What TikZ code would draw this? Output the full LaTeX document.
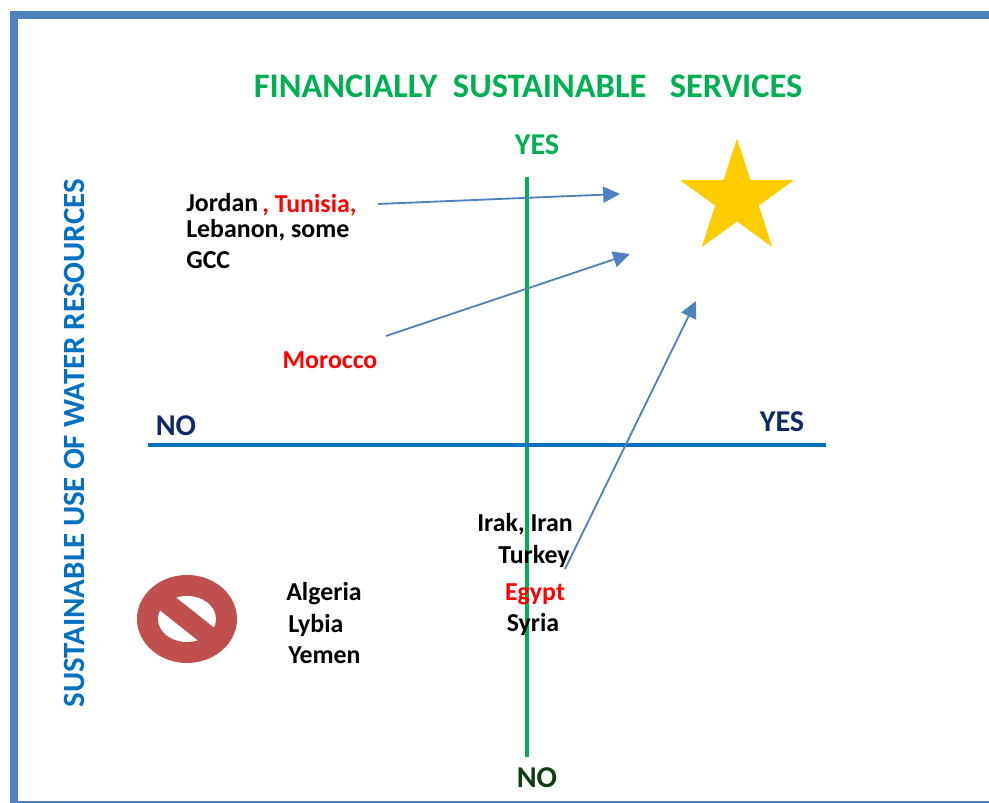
\documentclass[tikz,border=0pt]{standalone}
\usepackage{fontspec}
\usepackage{xcolor}
\setmainfont{Carlito}
\usetikzlibrary{arrows.meta,shapes.geometric}
\definecolor{framecol}{HTML}{4F81BD}
\definecolor{axisgreen}{HTML}{00B050}
\definecolor{axisblue}{HTML}{0070C0}
\definecolor{navycol}{HTML}{0F2A66}
\definecolor{darkgreen}{HTML}{0F3D0F}
\definecolor{starcol}{HTML}{FFCC00}
\definecolor{badred}{HTML}{C0504D}
\tikzset{
	link/.style={draw=framecol, line width=1.3pt, -{Triangle[length=0.42cm,width=0.4cm]}},
	axisline/.style={line width=3.4pt},
	country/.style={font=\fontsize{18.4}{22}\bfseries, inner sep=0pt, text=black},
	highlight/.style={country, text=red},
	axislabel/.style={font=\fontsize{21.5}{26}\bfseries, inner sep=0pt}
}
\begin{document}
\begin{tikzpicture}
	\useasboundingbox (0,0) rectangle (24.725,20.075);

	\fill[framecol] (0.25,0) rectangle (0.45,19.8);
	\fill[framecol] (0.25,19.6) rectangle (24.725,19.8);
	\fill[framecol] (0.25,0) rectangle (24.725,0.05);

	\coordinate (vtop) at (13.175,15.65);
	\coordinate (vbottom) at (13.175,1.15);
	\coordinate (hleft) at (3.7,8.95);
	\coordinate (hright) at (20.65,8.95);
	\draw[axisline, axisgreen] (vtop) -- (vbottom);
	\draw[axisline, axisblue] (hleft) -- (hright);

	\node[font=\fontsize{24.5}{29}\bfseries, text=axisgreen, inner sep=0pt] at (13.2,17.925) (title) {FINANCIALLY\ \ SUSTAINABLE\ \ \ SERVICES};
	\node[rotate=90, font=\fontsize{22}{26}\bfseries, text=axisblue, inner sep=0pt] at (1.85,8.99) (ylabel) {SUSTAINABLE USE OF WATER RESOURCES};
	\node[axislabel, text=axisgreen] at (13.425,16.45) (yestop) {YES};
	\node[axislabel, text=darkgreen] at (13.425,0.625) (nobottom) {NO};
	\node[axislabel, text=navycol] at (4.4,9.425) (noleft) {NO};
	\node[axislabel, text=navycol] at (19.55,9.525) (yesright) {YES};

	\node[star, star points=5, star point ratio=2.618, fill=starcol, minimum size=3cm, inner sep=0pt, outer sep=0pt] at (18.425,15.11) (goal) {};

	\node[country, anchor=west] at (4.65,15.0) (jordan) {Jordan};
	\node[highlight, anchor=west] at (6.55,14.95) (tunisia) {, Tunisia,};
	\node[country, anchor=west] at (4.65,14.325) (lebanon) {Lebanon, some};
	\node[country, anchor=west] at (4.65,13.575) (gcc) {GCC};
	\node[highlight] at (8.25,11.075) (morocco) {Morocco};

	\node[country] at (13.125,6.975) (irak) {Irak, Iran};
	\node[country] at (13.35,6.175) (turkey) {Turkey};
	\node[highlight] at (13.375,5.225) (egypt) {Egypt};
	\node[country] at (13.325,4.475) (syria) {Syria};

	\node[country, anchor=west] at (7.15,5.225) (algeria) {Algeria};
	\node[country, anchor=west] at (7.2,4.45) (lybia) {Lybia};
	\node[country, anchor=west] at (7.2,3.7) (yemen) {Yemen};

	\coordinate (nosign) at (4.675,4.6);
	\fill[badred] (nosign) ellipse [x radius=1.25cm, y radius=1.1cm];
	\fill[white] (nosign) ellipse [x radius=0.725cm, y radius=0.575cm];
	\fill[badred, rotate around={-38.4:(nosign)}] ([shift={(-1,-0.25)}]nosign) rectangle ([shift={(1,0.25)}]nosign);

	\coordinate (fromjordan) at (9.45,14.975);
	\coordinate (tojordan) at (15.5,15.225);
	\coordinate (frommorocco) at (9.65,11.675);
	\coordinate (tomorocco) at (15.75,13.725);
	\coordinate (fromturkey) at (14.125,5.85);
	\coordinate (toturkey) at (17.4,12.55);
	\draw[link] (fromjordan) -- (tojordan);
	\draw[link] (frommorocco) -- (tomorocco);
	\draw[link] (fromturkey) -- (toturkey);
\end{tikzpicture}
\end{document}
